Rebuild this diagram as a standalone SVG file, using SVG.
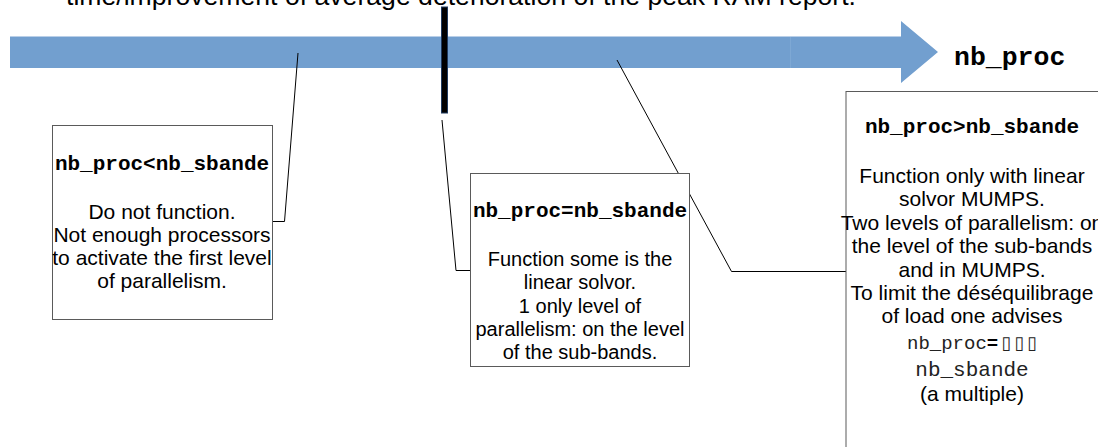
<svg xmlns="http://www.w3.org/2000/svg" width="1098" height="447" viewBox="0 0 1098 447">
<style>
.box{fill:#fff;stroke:#5a5a5a;stroke-width:1}
.t{font-family:"Liberation Sans",Arial,sans-serif;font-size:21px;fill:#000;text-anchor:middle}
.m{font-family:"Liberation Mono","Courier New",monospace;font-size:21px;font-weight:bold;fill:#000;text-anchor:middle}
.mr{font-family:"Liberation Mono","Courier New",monospace;font-size:21px;fill:#222;text-anchor:middle}
.tofu{font-family:"DejaVu Sans",sans-serif;font-size:18px;font-weight:normal}
.c{fill:none;stroke:#000;stroke-width:1}
</style>
<rect width="1098" height="447" fill="#fff"/>
<text x="66" y="4.5" font-family="Liberation Sans, Arial, sans-serif" font-size="26.5" fill="#000" textLength="790" lengthAdjust="spacingAndGlyphs">time/improvement of average deterioration of the peak RAM report.</text>
<g id="axis">
<polygon points="10,36 901,36 901,21 938,52 901,83 901,68 10,68" fill="#729fcf"/>
<line x1="10" y1="36.5" x2="901" y2="36.5" stroke="#b9cfe8" stroke-width="1"/>
<line x1="790.5" y1="37" x2="790.5" y2="68" stroke="#7ea8d4" stroke-width="1"/>
<rect x="441.5" y="7" width="6" height="106" fill="#000" stroke="#1f3a5f" stroke-width="1"/>
<text x="954" y="65" font-family="Liberation Mono, Courier New, monospace" font-size="26.5" font-weight="bold" fill="#000">nb_proc</text>
</g>
<g id="connectors">
<path class="c" d="M298,53 L284.5,221.5 L272,221.5"/>
<path class="c" d="M442,120 L456,270.5 L470,270.5"/>
<path class="c" d="M617,60 L731.5,271.5 L846,271.5"/>
</g>
<g id="node1">
<rect class="box" x="52.5" y="125.5" width="220" height="194"/>
<text class="m" x="162" y="170">nb_proc&lt;nb_sbande</text>
<text class="t" x="162" y="218.5">Do not function.</text>
<text class="t" x="162" y="241.5">Not enough processors</text>
<text class="t" x="162" y="265">to activate the first level</text>
<text class="t" x="162" y="288">of parallelism.</text>
</g>
<g id="node2">
<rect class="box" x="470.5" y="173.5" width="219" height="193"/>
<text class="m" x="580" y="217">nb_proc=nb_sbande</text>
<text class="t" x="580" y="265.5" style="font-size:20px">Function some is the</text>
<text class="t" x="580" y="289" style="font-size:20px">linear solvor.</text>
<text class="t" x="580" y="312.5" style="font-size:20px">1 only level of</text>
<text class="t" x="580" y="336" style="font-size:20px">parallelism: on the level</text>
<text class="t" x="580" y="359" style="font-size:20px">of the sub-bands.</text>
</g>
<g id="node3">
<rect class="box" x="846" y="91.5" width="260" height="370"/>
<text class="m" x="972" y="133">nb_proc&gt;nb_sbande</text>
<text class="t" x="972" y="183">Function only with linear</text>
<text class="t" x="972" y="206">solvor MUMPS.</text>
<text class="t" x="972" y="229.5">Two levels of parallelism: on</text>
<text class="t" x="972" y="253">the level of the sub-bands</text>
<text class="t" x="972" y="276.5">and in MUMPS.</text>
<text class="t" x="972" y="300">To limit the déséquilibrage</text>
<text class="t" x="972" y="323">of load one advises</text>
<text x="907" y="349" font-family="Liberation Mono, Courier New, monospace" font-size="19" fill="#222">nb_proc<tspan font-weight="bold" fill="#000">=</tspan><tspan class="tofu" dx="3">▯</tspan><tspan class="tofu" dx="3">▯</tspan><tspan class="tofu" dx="3">▯</tspan></text>
<text class="mr" x="972" y="376">nb_sbande</text>
<text class="t" x="972" y="401">(a multiple)</text>
</g>
</svg>
